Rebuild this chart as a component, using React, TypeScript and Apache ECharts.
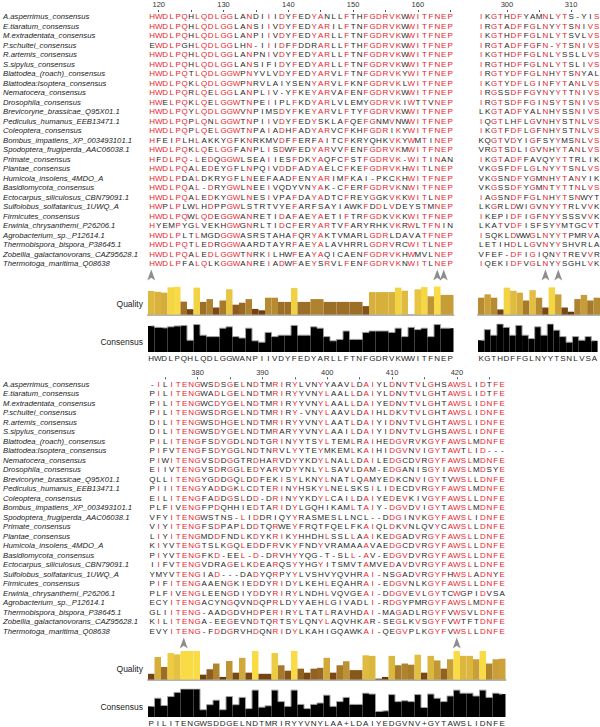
import React, { useEffect, useRef } from 'react';
import * as echarts from 'echarts';

// ---------- DATA ----------
const names = [
  'A.asperrimus_consensus', 'E.tiaratum_consensus', 'M.extradentata_consensus', 'P.schultei_consensus',
  'R.artemis_consensus', 'S.sipylus_consensus', 'Blattodea_(roach)_consensus', 'Blattodea:Isoptera_consensus',
  'Nematocera_consensus', 'Drosophila_consensus', 'Brevicoryne_brassicae_Q95X01.1', 'Pediculus_humanus_EEB13471.1',
  'Coleoptera_consensus', 'Bombus_impatiens_XP_003493101.1', 'Spodoptera_frugiperda_AAC06038.1', 'Primate_consensus',
  'Plantae_consensus', 'Humicola_insolens_4MDO_A', 'Basidiomycota_consensus', 'Ectocarpus_siliculosus_CBN79091.1',
  'Sulfolobus_solfataricus_1UWQ_A', 'Firmicutes_consensus', 'Erwinia_chrysanthemi_P26206.1', 'Agrobacterium_sp._P12614.1',
  'Thermobispora_bispora_P38645.1', 'Zobellia_galactanovorans_CAZ95628.1', 'Thermotoga_maritima_Q08638',
];

const topLeftStart = 119;
const topLeftSeqs = [
  'HWDLPQHLQDLGGLANDIIIDYFEDYANLLFTHFGDRVKWWITFNEP',
  'HWDLPQHLQDLGGLANSIIVDYFEDYARILFTNFGDRVKWWITFNEP',
  'HWDLPQHLQDLGGLANPIIVDYFEDYARLLFTNFGDRVKWWITFNEP',
  'EWDLPGHLQDLGGLHN-IIIDFFDDRARLLFTHFGDRVKWWITFNEP',
  'HWDLPQHLQDLGGLANPNIVDYFEDYARLLFTNFGDRVKWWITFNEP',
  'HWDLPQHLQDLGGLANSIFIDYFEDYARLLFTNFGDRVKWWITFNEP',
  'HWDLPQTLQDLGGWPNYVLVDYFEDYARVLFTNFGDRVKYWITFNEP',
  'HWDLPQKLQDLGGWPNRVLAIYSENYARVLFKNFGDRVKLWITFNEP',
  'HWDLPQRLQELGGLANPLIV-YFKEYARVAFENFGDRVKWWITFNEP',
  'HWELPQKLQELGGWTNPEIIPLFKDYARLVLEMYGDRVKIWTTVNEP',
  'HWDLPQYLQDLGGWVNPIMSDYFKEYARVLFTYFGDRVKWWITFNEP',
  'HWDLPQPLQNLGGWTNPIIVDYFEDYSKLAFQEFGNMVNWWITFNEP',
  'HWDLPQPLQELGGWTNPAIADHFADYARVCFKHFGDRIKYWITFNEP',
  'HFEIPLHLAKKYGFKNRKMVDFFERFAITCFKRYQHKVKYWMTINEP',
  'HWDLPQKLQELGGFANPLISDWFEDYARVVFENFGDRVKMWITFNEP',
  'HFDLPQ-LEDQGGWLSEAIIESFDKYAQFCFSTFGDRVK-WITINAN',
  'HWDLPQALEDEYGFLNPQIVDDFADYAELCFKEFGDRVKHWITLNEP',
  'HWDLPDALDKRYGFLNEEFAADFENYARIMFKAI-PKCKHWITFNEP',
  'HWDLPQAL-DRYGWLNEEIVQDYVNYAK-CFERFGDRVKNWITFNEP',
  'HWDLPQALEDKYGWLNESIVPAFDAYADTCFREYGGKVKKWITLNEP',
  'HWPLPLWLHDPPGWLSTRTVYEFARFSAYIAWKFDDLVDEYSTMNEP',
  'HWDLPQWLQDEGGWANRETIDAFAEYAETIFTRFGDKVKKWITFNEP',
  'HYEMPYGLVEKHGWGNRLTIDCFERYARTVFARYRHKVKRWLTFNIN',
  'HWDLPLTLMGDGGWASRSTAHAFQRYAKTVMARLGDRLDAVATFNEP',
  'HWDLPQTLEDRGGWAARDTAYRFAEYALAVHRRLGDRVRCWITLNEP',
  'HWDLPQALEDLGGWTNRKILHWFEAYAQICAENFGDRVKHWMVLNEP',
  'HWDLPFALQLKGGWANREIADWFAEYSRVLFENFGDRVKNWITLNEP',
];
const topLeftConsensus = 'HWDLPQHLQDLGGWANPIIVDYFEDYARLLFTNFGDRVKWWITFNEP';
const topLeftQuality = [
  0.84, 0.81, 0.78, 0.97, 0.99, 0.46, 0.19, 0.96, 0.45, 0.55,
  0.25, 0.5, 0.9, 0.35, 0.42, 0.55, 0.2, 0.15, 0.6, 0.6,
  0.45, 0.45, 0.95, 0.45, 0.45, 0.55, 0.55, 0.45, 0.45, 0.45,
  0.45, 0.45, 0.45, 0.3, 0.8, 0.8, 0.8, 0.8, 0.96, 0.85,
  0, 0.9, 0.98, 0.65, 1.0, 0.7, 0.7,
];
const topLeftIdentity = [
  0.93, 0.88, 0.86, 0.9, 0.93, 0.95, 0.42, 0.98, 0.6, 0.55,
  0.55, 0.85, 0.9, 0.55, 0.5, 0.85, 0.4, 0.35, 0.7, 0.55,
  0.6, 0.6, 0.95, 0.6, 0.6, 0.9, 0.85, 0.55, 0.4, 0.45,
  0.75, 0.45, 0.45, 0.7, 0.75, 0.75, 0.75, 0.7, 0.85, 0.55,
  0.88, 0.8, 0.85, 0.55, 0.98, 0.85, 0.85,
];
const topLeftMarkers = [0, 44, 45];

const topRightStart = 296;
const topRightSeqs = [
  'IKGTHDFYAMNLYTS-YIS', 'IRGTADFFGLNYYTSNIVS', 'IKGTHDFFGLNLYTSVLVS', 'IRGTADFFGFN-YTSNIVS',
  'IKGTHDFFGLNLYSSLLVS', 'IRGTHDFFGLNLYTSLIVS', 'IRGTYDFFGLNHYTSNYAL', 'IKGTYDFLGINFYTANLVS',
  'IRGSSDFFGYNYYTTNIVS', 'IRGTSDFFGINSYTSNIVS', 'LKGTADFYALNHYSSNIVS', 'IQGTLHFLGVNHYSTNLVS',
  'IKGTFDFLGFNHYSTNLVS', 'KQGTVDYIGFSYYMSNLVS', 'VRGTSDLIGVNHYTANLVS', 'IKGTADFFAVQYYTTRLIK',
  'VKGSFDFLGLNYYTSNLVS', 'VKGSNDFYGMNHYTANYIK', 'VKGSSDFYGMNTYTTNLVS', 'IAGSNDFFGLNHYTSNWYT',
  'LKGRLDWIGVNYYTRLVVK', 'IKEPIDFIGFNYYSSSVVK', 'LKATVDFISFSYYMTGCVT', 'ISQKLDWWGLNYYTPMRVA',
  'LETIHDLLGVNYYSHVRLA', 'VFEF-DFIGIQNYTREVVR', 'IQEKIDFVGLNYYSGHLVK',
];
const topRightConsensus = 'KGTHDFFGLNYYTSNLVSA';
const topRightQuality = [0.6, 0.72, 0.6, 0.18, 0.96, 0.85, 0.78, 0.5, 0.87, 0.6, 0.25, 0.97, 0.72, 0.25, 0.1, 0.55, 0.7, 0.5, 0.6];
const topRightIdentity = [0.42, 0.8, 0.6, 1.0, 0.88, 0.6, 0.95, 0.6, 0.48, 0.9, 0.6, 1.0, 0.78, 0.55, 0.35, 0.55, 0.42, 0.55, 0.4];
const topRightMarkers = [10, 12];

const bottomStart = 373;
const bottomSeqs = [
  '-ILITENGWSDSGELNDTMRIRYLVNYYAAVLDAIYLDNVTVLGHSAWSLIDTFE',
  'PILITENGWADLGELNDTMRIRYYVNYLAALLDAIYLDNVTVLGHTAWSLIDTFE',
  'PILITENGWCDYGELNDTMRIRYYVNYLAALLDAIYEDNVTVLGHTAWSLIDNFE',
  'PILITENGWSDRGELNDTMRIRY-VNYLAAVLDAIHLDKVTVLGHTAWSLIDNFE',
  'DILITENGWSDHGELNDTMRIRYYVNYLAATLDAIYIDNVTVLGHTAWSLIDNFE',
  'DILITENGWSDYGELNDTMRARYYVNYLAAILDAIYIDNVTVLGHSAWSLIDNFE',
  'PILITENGFSDYGDLNDTGRINYYTSYLTEMLRAIHEDGVRVKGYFAWSLMDNFE',
  'PIFVTENGFSDYGGLNDTNRVLYYTEYMKEMLKAIHIDGVNVIGYTAWTLID---',
  'PIWITENGVSDDGGTRDHARVDYYKDYLNALLDAILEDGCDVRGYFAWSLMDNFE',
  'EIIVTENGVSDRGGLEDYARVDYYNLYLSAVLDAM-EDGANISGYIAWSLMDSYE',
  'QLLITENGYGDDGQLDDFEKISYLKNYLNATLQAMYEDKCNVIGYTVWSLLDNFE',
  'PIIITENGYADDGKLCDTERINYHSKYLNELSKSILIDECDVRGYFAWSLMDNFE',
  'EILITENGFADDGSLDD-DRINYYKDYLCAILDAIYEDEVKIVGYFAWSLLDNFE',
  'PLFIVENGFPDQHHIEDTARIDYLGQHIKAMLTAIY-DGVDVIGYTAWSLMDNFE',
  'VFYITENGWSTNS-LIDDRIQYYRASMESLLNCL--DDGINVKGYFAWSLIDNFE',
  'VIYITENGFSDPAPLDDTQRWEYFRQTFQELFKAIQLDKVNLQVYCAWSLLDNFE',
  'LIYITENGMDDFNDLKDYKRIKYHHDHLSSLLAAIKEDGADVRGYFAWSLLDNFE',
  'KIYVTENGTSLKGQLEDDFRVKYFNDYVRAMAAAVAEDGCDVRGYFAWSLLDNFE',
  'PIYVTENGFKD-EEL-D-DRVHYYQG-T-SLL-AV-EDGVDVRGYFAWSLLDNFE',
  'IIFVTENGVDRAGELKDEARQSYYHGYITSMVTAMVEDAVDVRGYFAWSLLDNFE',
  'YMYVTENGIAD---DADYQRPYYLVSHVYQVHRAI-NSGADVRGYFHWSLADNYE',
  'PIFITENGAAENGKIEDDYRIDYLKEHLEQAHRAI-EDGVNLKGYFAWSLLDNFE',
  'PLFIVENGLEENGDIYDDYRIRYLNDHLVQVGEAI-DDGVEVLGYTCWGPIDVSA',
  'ECYITENGACYNGQVNDQPRLDYYAEHLGIVADLI-RDGYPMRGYFAWSLMDNFE',
  'GLIITENG-AADGDVHDPERIRYLTATLRAVHDAI-MAGADLRGYFVWSVLDNFE',
  'KILITENGA-EEGEVNDTQRTSYLQNYLAQVHKAR-SEGLKVSGYFVWTFTDNFE',
  'EVYITENG-FDDGRVHDQNRIDYLKAHIGQAWKAI-QEGVPLKGYFVWSLLDNFE',
];
const bottomConsensus = 'PILITENGWSDDGELNDTMRIRYYVNYLAA+LDAIYEDGVNV+GYTAWSLIDNFE';
const bottomQuality = [
  0.2, 0.79, 0.44, 0.93, 0.88, 1, 1, 1, 0.17, 0.36,
  0.56, 0.09, 0.65, 0.24, 0.76, 0.24, 1, 0.2, 0.2, 0.93,
  0.5, 0.31, 1, 0.38, 0.24, 0.38, 0.41, 0.76, 0.24, 0.5,
  0.64, 0.33, 0.33, 0.85, 0.83, 0.03, 0.09, 0.83, 0.5, 0.56,
  0.52, 0.87, 0.24, 0.83, 0.67, 0.38, 0.71, 1, 0.83, 0.83,
  0.71, 1, 0.56, 0.71, 0.73,
];
const bottomIdentity = [
  0.38, 0.67, 0.41, 0.73, 0.88, 1, 1, 1, 0.26, 0.44,
  0.6, 0.26, 0.73, 0.44, 0.7, 0.3, 0.96, 0.35, 0.4, 0.96,
  0.55, 0.38, 0.96, 0.45, 0.3, 0.45, 0.5, 0.78, 0.38, 0.55,
  0.7, 0.45, 0.45, 0.85, 0.82, 0.2, 0.22, 0.8, 0.55, 0.58,
  0.55, 0.8, 0.34, 0.82, 0.67, 0.55, 0.75, 0.96, 0.85, 0.85,
  0.75, 0.96, 0.7, 0.85, 0.82,
];
const bottomMarkers = [5, 47];

// ---------- STYLE / LAYOUT ----------
const FONT = '"Liberation Sans", Arial, sans-serif';
const RED = '#e8232a';
const DARK = '#1e1e1e';
const COL_W = 6.5;
const ROW_H = 9.5;
const ARROW = 'path://M5,0L10,12L5,9L0,12Z';

const qStops: [number, number[]][] = [
  [0, [94, 47, 6]], [0.25, [122, 72, 20]], [0.5, [166, 121, 43]],
  [0.75, [207, 166, 58]], [0.9, [231, 197, 65]], [1, [249, 220, 69]],
];
function qColor(v: number) {
  for (let i = 1; i < qStops.length; i++) {
    if (v <= qStops[i][0]) {
      const [a, ca] = qStops[i - 1];
      const [b, cb] = qStops[i];
      const t = (v - a) / (b - a);
      const c = ca.map((x, k) => Math.round(x + (cb[k] - x) * t));
      return `rgb(${c[0]},${c[1]},${c[2]})`;
    }
  }
  return 'rgb(249,220,69)';
}

interface Block {
  seqs: string[]; start: number; consensus: string; quality: number[]; identity: number[]; markers: number[];
  left: number; alignTop: number; markerTop: number; qualityTop: number; qualityH: number;
  consTop: number; consH: number; showNames: boolean; rulerMargin: number;
}

function addBlock(o: any, b: Block) {
  const n = b.consensus.length;
  const width = n * COL_W;
  const idx = Array.from({ length: n }, (_, i) => String(i));
  const positions = Array.from({ length: n }, (_, i) => String(b.start + i));

  // alignment
  let gi = o.grid.length;
  o.grid.push({ left: b.left, top: b.alignTop, width, height: ROW_H * names.length });
  o.xAxis.push({
    type: 'category', gridIndex: gi, position: 'top', data: positions, boundaryGap: true,
    axisLine: { show: false }, splitLine: { show: false },
    axisTick: { show: true, alignWithLabel: true, length: 2, interval: (i: number) => (b.start + i) % 5 === 0, lineStyle: { color: '#555', width: 1 } },
    axisLabel: { interval: (i: number) => (b.start + i) % 10 === 0, fontSize: 7.5, color: '#333', margin: b.rulerMargin, fontFamily: FONT },
  });
  o.yAxis.push({
    type: 'category', gridIndex: gi, inverse: true, data: names, show: b.showNames,
    axisLine: { show: false }, axisTick: { show: false }, splitLine: { show: false },
    axisLabel: { show: b.showNames, interval: 0, align: 'left', margin: b.left - 2, fontSize: 7.7, fontStyle: 'italic', color: '#222', fontFamily: FONT },
  });
  const cells: number[][] = [];
  const letters: string[] = [];
  const reds: boolean[] = [];
  for (let c = 0; c < n; c++) {
    const counts: Record<string, number> = {};
    b.seqs.forEach((s) => { const ch = s[c]; if (ch && ch !== '-') counts[ch] = (counts[ch] || 0) + 1; });
    let best = ''; let bc = 0;
    Object.keys(counts).forEach((k) => { if (counts[k] > bc) { bc = counts[k]; best = k; } });
    const conserved = bc / b.seqs.length >= 0.5;
    b.seqs.forEach((s, r) => {
      const ch = s[c] || ' ';
      cells.push([c, r]);
      letters.push(ch);
      reds.push(conserved && ch === best);
    });
  }
  o.series.push({
    type: 'custom', xAxisIndex: gi, yAxisIndex: gi, data: cells, silent: true, clip: false,
    renderItem: (params: any, api: any) => {
      const i = params.dataIndex;
      const p = api.coord([api.value(0), api.value(1)]);
      return {
        type: 'text', x: p[0], y: p[1], silent: true,
        style: { text: letters[i], fill: reds[i] ? RED : DARK, fontSize: 8, fontFamily: FONT, align: 'center', verticalAlign: 'middle', textAlign: 'center', textVerticalAlign: 'middle' },
      };
    },
  });

  // markers
  gi = o.grid.length;
  o.grid.push({ left: b.left, top: b.markerTop, width, height: 10 });
  o.xAxis.push({ type: 'category', gridIndex: gi, data: idx, show: false });
  o.yAxis.push({ type: 'value', gridIndex: gi, min: 0, max: 1, show: false });
  o.series.push({
    type: 'scatter', xAxisIndex: gi, yAxisIndex: gi, symbol: ARROW, symbolSize: [8, 11], silent: true,
    itemStyle: { color: '#707070' }, data: b.markers.map((m) => [m, 0.5]),
  });

  // quality
  gi = o.grid.length;
  o.grid.push({ left: b.left, top: b.qualityTop, width, height: b.qualityH });
  o.xAxis.push({
    type: 'category', gridIndex: gi, data: idx,
    axisLine: { show: true, lineStyle: { color: '#b4b4b4', width: 2 } }, axisTick: { show: false }, axisLabel: { show: false },
  });
  o.yAxis.push({ type: 'value', gridIndex: gi, min: 0, max: 1, show: false, splitLine: { show: false } });
  o.series.push({
    type: 'bar', xAxisIndex: gi, yAxisIndex: gi, barCategoryGap: '0%', silent: true,
    data: b.quality.map((v) => ({ value: v, itemStyle: { color: qColor(v) } })),
  });

  // consensus identity
  gi = o.grid.length;
  o.grid.push({ left: b.left, top: b.consTop, width, height: b.consH });
  o.xAxis.push({
    type: 'category', gridIndex: gi, data: b.consensus.split(''),
    axisLine: { show: false }, axisTick: { show: false },
    axisLabel: { interval: 0, margin: 2, fontSize: 8, color: '#222', fontFamily: FONT },
  });
  o.yAxis.push({ type: 'value', gridIndex: gi, min: 0, max: 1, show: false, splitLine: { show: false } });
  o.series.push({
    type: 'bar', xAxisIndex: gi, yAxisIndex: gi, barCategoryGap: '0%', silent: true,
    itemStyle: { color: '#000' }, data: b.identity,
  });
  o.series.push({
    type: 'line', xAxisIndex: gi, yAxisIndex: gi, step: 'middle', silent: true, symbol: 'none',
    lineStyle: { color: '#a0a0a0', width: 1 }, data: b.identity, z: 3,
  });
}

function buildOption() {
  const o: any = { animation: false, grid: [], xAxis: [], yAxis: [], series: [], graphic: [] };
  const top = { alignTop: 11.75, markerTop: 270, qualityTop: 286.5, qualityH: 28, consTop: 324, consH: 28, rulerMargin: 4 };
  const bot = { alignTop: 379.25, markerTop: 638, qualityTop: 651, qualityH: 28.5, consTop: 689, consH: 28, rulerMargin: 3 };
  addBlock(o, { seqs: topLeftSeqs, start: topLeftStart, consensus: topLeftConsensus, quality: topLeftQuality, identity: topLeftIdentity, markers: topLeftMarkers, left: 148, showNames: true, ...top });
  addBlock(o, { seqs: topRightSeqs, start: topRightStart, consensus: topRightConsensus, quality: topRightQuality, identity: topRightIdentity, markers: topRightMarkers, left: 478, showNames: false, ...top });
  addBlock(o, { seqs: bottomSeqs, start: bottomStart, consensus: bottomConsensus, quality: bottomQuality, identity: bottomIdentity, markers: bottomMarkers, left: 148, showNames: true, ...bot });
  const label = (text: string, y: number) => ({
    type: 'text', x: 143, y, silent: true,
    style: { text, fill: '#222', fontSize: 8.5, fontFamily: FONT, align: 'right', verticalAlign: 'middle', textAlign: 'right', textVerticalAlign: 'middle' },
  });
  o.graphic = [label('Quality', 304), label('Consensus', 342), label('Quality', 669), label('Consensus', 707)];
  return o;
}

export default function App() {
  const ref = useRef<HTMLDivElement>(null);
  useEffect(() => {
    document.body.style.margin = '0';
    if (!ref.current) return;
    const chart = echarts.init(ref.current, undefined, { renderer: 'svg' });
    chart.setOption(buildOption());
    return () => chart.dispose();
  }, []);
  return <div ref={ref} style={{ width: 600, height: 727, background: '#fff' }} />;
}
